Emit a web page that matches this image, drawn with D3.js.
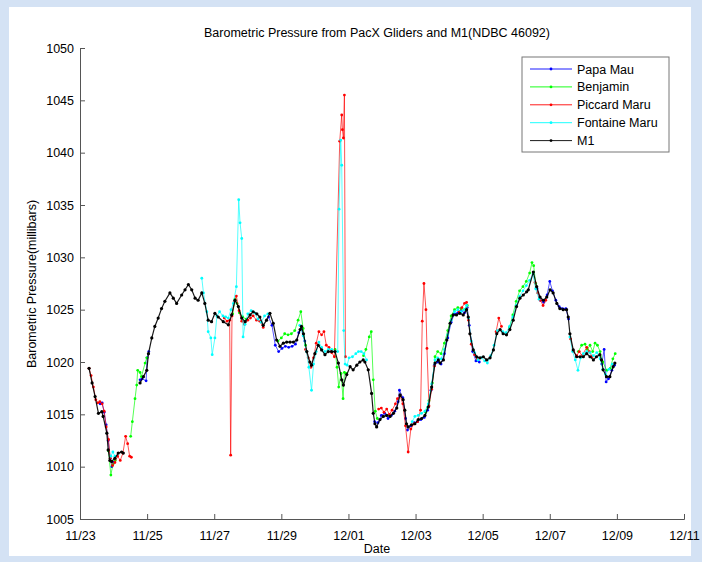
<!DOCTYPE html>
<html>
<head>
<meta charset="utf-8">
<script src="https://cdn.jsdelivr.net/npm/d3@7"></script>
<style>
  html, body { margin: 0; padding: 0; background: #d4e2f4; }
  svg { display: block; }
  text { font-family: "Liberation Sans", Arial, sans-serif; fill: #000; }
</style>
</head>
<body>
<script>
// Barometric pressure readings, [days after 11/23 00:00, millibars]; null marks a data gap.
const papaMau = [
  [0.60,1016.0],[0.66,1016.1],[0.72,1015.2],[0.78,1014.0],[0.84,1012.5],[0.90,1010.8],[0.95,1010.0],[1.00,1010.4],
  null,
  [1.79,1018.3],[1.85,1018.4],[1.97,1018.2],[2.00,1020.4],[2.05,1021.0],
  null,
  [5.62,1024.3],[5.72,1023.5],[5.82,1021.6],[5.92,1021.0],[6.02,1021.3],[6.12,1021.5],[6.22,1021.4],[6.32,1021.5],
  [6.42,1021.7],[6.52,1022.8],[6.60,1023.2],[6.70,1022.0],
  null,
  [8.78,1014.3],[8.88,1014.2],[8.98,1014.9],[9.08,1015.1],[9.18,1014.6],[9.28,1014.9],[9.38,1015.3],[9.48,1016.2],
  [9.52,1017.3],[9.62,1016.6],[9.70,1014.6],[9.76,1013.5],[9.86,1013.9],[9.96,1014.2],[10.06,1014.3],[10.16,1014.5],
  [10.26,1014.7],[10.36,1015.4],[10.46,1017.3],[10.56,1019.7],[10.66,1020.0],[10.76,1019.8],[10.86,1020.8],
  [10.96,1022.3],[11.06,1023.8],[11.16,1024.6],[11.26,1024.7],[11.36,1024.9],[11.46,1024.7],[11.54,1025.2],
  [11.60,1023.5],[11.70,1021.0],[11.80,1020.1],[11.90,1020.0],
  null,
  [13.62,1027.0],[13.72,1025.9],[13.82,1025.7],[13.92,1026.4],[14.00,1027.7],[14.08,1026.8],[14.18,1025.9],
  [14.28,1025.3],[14.38,1025.1],[14.48,1025.1],[14.56,1024.1],
  null,
  [15.55,1019.8],[15.62,1021.2],[15.68,1018.1],[15.75,1018.4],[15.85,1019.2],[15.93,1019.7]
];

const benjamin = [
  [0.85,1011.5],[0.92,1009.2],[0.98,1010.2],[1.05,1010.6],
  null,
  [1.51,1012.9],[1.56,1014.3],[1.64,1016.5],[1.69,1017.8],[1.72,1019.2],[1.79,1019.0],[1.83,1018.6],[1.94,1019.9],[1.99,1020.4],
  null,
  [4.55,1024.6],[4.62,1026.0],[4.68,1025.6],[4.75,1024.7],[4.85,1024.3],[4.95,1024.1],
  null,
  [5.90,1022.0],[6.00,1022.3],[6.10,1022.7],[6.20,1022.6],[6.30,1022.7],[6.40,1023.0],[6.50,1024.0],[6.58,1024.8],
  [6.65,1023.2],[6.72,1021.6],
  null,
  [7.60,1021.2],[7.66,1019.5],[7.71,1017.6],[7.78,1018.9],[7.84,1016.5],[7.88,1019.0],[7.94,1018.9],
  null,
  [8.45,1020.6],[8.52,1021.2],[8.62,1022.4],[8.68,1022.9],[8.74,1018.3],[8.80,1015.3],[8.86,1014.6],
  null,
  [10.30,1015.2],[10.40,1016.3],[10.50,1018.0],[10.58,1020.5],[10.66,1021.0],[10.76,1020.8],[10.86,1021.8],
  [10.96,1023.0],[11.06,1024.4],[11.16,1025.0],[11.26,1025.2],[11.36,1025.1],[11.46,1025.0],[11.54,1025.4],
  null,
  [12.80,1023.3],[12.90,1024.5],[13.00,1025.8],[13.10,1026.8],[13.20,1027.2],[13.30,1027.7],[13.40,1028.5],
  [13.47,1029.5],[13.52,1029.2],[13.58,1027.5],
  null,
  [14.85,1021.0],[14.95,1021.6],[15.05,1021.7],[15.12,1021.2],[15.20,1021.6],[15.28,1021.0],[15.35,1021.8],
  [15.42,1021.6],[15.50,1021.0],[15.58,1020.0],[15.70,1019.2],[15.80,1019.4],[15.88,1020.3],[15.95,1020.8]
];

const piccardMaru = [
  [0.27,1019.4],[0.33,1018.7],[0.40,1017.6],[0.47,1016.4],[0.53,1016.1],[0.59,1016.2],[0.66,1016.0],[0.72,1015.3],
  [0.78,1013.8],[0.85,1012.6],[0.90,1010.8],[0.97,1010.1],[1.04,1010.4],[1.12,1011.0],[1.20,1010.6],[1.28,1011.3],
  [1.36,1012.9],[1.42,1012.2],[1.48,1011.0],[1.53,1010.9],
  null,
  [4.30,1024.2],[4.38,1023.9],[4.46,1024.0],[4.49,1011.1],[4.53,1024.4],[4.60,1025.8],[4.66,1026.3],[4.74,1024.9],
  [4.82,1023.9],[4.90,1023.6],[5.00,1024.0],[5.08,1024.2],[5.16,1024.4],[5.26,1024.0],[5.36,1023.9],[5.46,1023.3],
  null,
  [6.72,1021.2],[6.80,1020.4],[6.88,1019.5],[6.96,1020.4],[7.04,1021.8],[7.12,1022.9],[7.20,1022.6],[7.27,1022.9],
  [7.34,1021.6],[7.42,1021.4],[7.50,1020.9],[7.58,1020.5],[7.74,1041.1],[7.80,1043.6],[7.82,1042.2],[7.85,1041.4],
  [7.88,1045.5],[7.91,1020.5],
  null,
  [8.90,1015.5],[8.98,1015.6],[9.06,1015.2],[9.14,1015.5],[9.22,1015.0],[9.30,1015.4],[9.40,1016.0],[9.46,1016.5],
  [9.54,1016.8],[9.62,1016.0],[9.70,1013.9],[9.78,1011.4],[9.86,1013.6],[9.96,1014.1],[10.06,1014.3],[10.15,1015.4],
  [10.20,1023.9],[10.25,1027.5],[10.31,1025.0],[10.34,1021.3],[10.40,1015.8],[10.48,1017.4],[10.56,1019.6],
  null,
  [11.30,1024.8],[11.38,1025.2],[11.46,1025.6],[11.52,1025.7],[11.58,1024.0],[11.66,1021.7],[11.76,1020.7],[11.84,1020.3],
  null,
  [12.40,1022.9],[12.48,1024.2],[12.56,1023.4],
  null,
  [13.56,1027.6],[13.64,1026.6],[13.72,1025.9],[13.80,1025.4],[13.88,1025.9],
  null,
  [14.62,1022.2],[14.70,1021.0],[14.80,1020.6],[14.88,1021.0],[14.96,1020.6],[15.10,1021.4],[15.18,1021.0],[15.26,1020.5]
];

const fontaineMaru = [
  [0.92,1011.0],[0.98,1011.4],[1.04,1011.0],
  null,
  [3.63,1028.0],[3.68,1026.6],[3.78,1024.8],[3.82,1022.9],[3.90,1022.3],[3.94,1020.7],[4.02,1022.3],[4.08,1024.4],
  [4.16,1024.8],[4.26,1024.4],[4.34,1024.3],[4.42,1024.2],[4.50,1025.0],[4.57,1025.6],[4.66,1027.2],[4.73,1035.5],
  [4.77,1033.3],[4.82,1031.8],[4.86,1022.4],[4.92,1023.6],[5.00,1024.6],[5.10,1024.9],[5.20,1024.7],[5.30,1024.1],
  [5.40,1023.8],[5.50,1024.4],[5.60,1024.6],
  null,
  [6.55,1023.5],[6.65,1022.5],[6.75,1021.0],[6.82,1019.5],[6.90,1017.3],[6.96,1019.8],[7.04,1021.0],[7.12,1021.9],
  [7.20,1021.4],[7.30,1021.0],[7.40,1021.2],[7.50,1021.2],[7.68,1021.0],[7.72,1034.6],[7.77,1041.2],[7.80,1038.8],
  [7.86,1023.0],[7.90,1019.8],[7.96,1019.7],[8.02,1020.4],[8.12,1020.5],[8.22,1020.8],[8.30,1021.0],[8.38,1021.0],
  [8.46,1020.8],[8.54,1020.2],
  null,
  [9.90,1014.3],[9.98,1014.8],[10.08,1014.9],[10.18,1015.1],[10.28,1015.3],[10.38,1016.0],[10.48,1017.9],[10.58,1020.2],
  [10.66,1020.4],[10.76,1020.3],[10.86,1021.2],[10.96,1022.6],[11.06,1024.0],[11.16,1024.8],[11.26,1025.0],[11.36,1024.8],
  [11.46,1025.0],[11.52,1025.4],[11.58,1024.2],[11.66,1022.0],[11.76,1020.9],[11.86,1020.2],[11.96,1020.4],[12.06,1020.1],
  [12.14,1019.9],[12.24,1020.6],[12.34,1021.6],[12.44,1023.0],
  null,
  [12.60,1022.9],[12.70,1022.8],[12.80,1023.4],[12.90,1024.3],[13.00,1025.4],[13.10,1026.3],[13.20,1026.8],[13.30,1027.3],
  [13.40,1027.8],[13.50,1028.4],[13.58,1027.0],[13.68,1026.0],
  null,
  [14.60,1022.4],[14.68,1021.0],[14.76,1020.2],[14.84,1019.2],[14.92,1020.4],[15.00,1020.8],[15.10,1021.0],[15.20,1020.9],
  [15.30,1020.6],[15.40,1020.9],[15.50,1020.3],[15.58,1019.3],[15.66,1018.8],[15.76,1019.3],[15.86,1019.8]
];

const m1 = [
  [0.27,1019.4],[0.36,1018.0],[0.45,1016.7],[0.55,1015.1],[0.65,1015.25],[0.69,1014.8],[0.80,1013.2],[0.84,1011.6],
  [0.89,1010.6],[0.94,1010.5],[1.04,1010.8],[1.14,1011.3],[1.24,1011.4],[1.29,1011.3],
  null,
  [1.79,1018.0],[1.89,1018.6],[1.99,1019.2],[2.04,1020.8],[2.14,1022.3],[2.23,1023.4],[2.33,1024.2],[2.43,1025.1],
  [2.53,1025.8],[2.68,1026.6],[2.78,1026.1],[2.88,1025.6],[3.03,1026.4],[3.13,1026.9],[3.23,1027.4],[3.33,1026.9],
  [3.43,1026.1],[3.52,1025.9],[3.63,1026.6],[3.72,1025.6],[3.82,1024.0],[3.92,1023.85],[4.02,1024.65],[4.12,1024.3],
  [4.27,1023.85],[4.42,1023.55],[4.52,1024.5],[4.62,1025.9],[4.72,1025.3],[4.82,1024.2],[4.92,1023.85],[5.07,1024.5],
  [5.16,1024.8],[5.27,1024.6],[5.36,1024.3],[5.46,1023.5],[5.56,1024.0],[5.66,1024.65],[5.76,1023.7],[5.86,1022.1],
  [5.96,1021.5],[6.06,1021.8],[6.16,1021.9],[6.26,1021.9],[6.36,1021.9],[6.46,1022.1],[6.56,1023.1],[6.60,1023.4],
  [6.66,1022.7],[6.76,1021.0],[6.85,1020.0],[6.90,1019.7],[7.00,1020.8],[7.10,1021.6],[7.20,1021.15],[7.30,1020.7],
  [7.40,1021.0],[7.50,1021.0],[7.60,1021.0],[7.70,1019.9],[7.80,1018.3],[7.85,1017.8],[7.95,1018.8],[8.05,1019.55],
  [8.14,1019.25],[8.25,1019.7],[8.34,1020.0],[8.44,1020.2],[8.49,1020.0],[8.59,1019.25],[8.69,1017.0],[8.74,1015.1],
  [8.79,1014.1],[8.84,1013.8],[8.94,1014.5],[9.04,1014.8],[9.14,1014.9],[9.24,1014.8],[9.34,1015.1],[9.44,1015.6],
  [9.54,1016.85],[9.63,1016.4],[9.68,1015.4],[9.73,1014.1],[9.78,1013.8],[9.88,1014.0],[9.98,1014.1],[10.08,1014.5],
  [10.18,1014.6],[10.28,1014.9],[10.38,1015.7],[10.48,1017.6],[10.58,1019.9],[10.68,1020.2],[10.73,1019.9],[10.83,1020.2],
  [10.93,1022.1],[11.03,1023.7],[11.12,1024.5],[11.22,1024.5],[11.32,1024.65],[11.42,1024.5],[11.52,1025.0],[11.57,1024.3],
  [11.62,1022.7],[11.72,1021.15],[11.82,1020.5],[11.92,1020.4],[12.02,1020.5],[12.12,1020.2],[12.22,1020.4],[12.32,1021.15],
  [12.42,1022.7],[12.52,1023.1],[12.61,1022.7],[12.71,1022.6],[12.81,1023.1],[12.91,1024.0],[13.01,1025.3],[13.11,1026.1],
  [13.21,1026.4],[13.31,1026.7],[13.36,1026.9],[13.51,1028.6],[13.61,1027.2],[13.71,1026.2],[13.81,1025.9],[13.91,1026.2],
  [14.01,1026.9],[14.10,1026.6],[14.21,1025.6],[14.30,1025.1],[14.40,1025.0],[14.50,1025.0],[14.55,1024.3],[14.60,1022.7],
  [14.70,1021.15],[14.80,1020.5],[14.90,1020.5],[15.00,1020.5],[15.10,1020.8],[15.20,1020.5],[15.30,1020.2],[15.39,1020.5],
  [15.49,1020.7],[15.54,1020.2],[15.59,1019.25],[15.69,1018.6],[15.79,1018.6],[15.89,1019.55],[15.94,1019.9]
];

const seriesNames  = ["Papa Mau", "Benjamin", "Piccard Maru", "Fontaine Maru", "M1"];
const seriesData   = [papaMau, benjamin, piccardMaru, fontaineMaru, m1];
const seriesColors = ["#0000ff", "#00ff00", "#ff0000", "#00ffff", "#000000"];

const yTicks = [1005, 1010, 1015, 1020, 1025, 1030, 1035, 1040, 1045, 1050];
const xTickLabels = ["11/23", "11/25", "11/27", "11/29", "12/01", "12/03", "12/05", "12/07", "12/09", "12/11"];

const titleText = "Barometric Pressure from PacX Gliders and M1(NDBC 46092)";
const xAxisLabel = "Date";
const yAxisLabel = "Barometric Pressure(millibars)";

// ---- layout ----
const W = 702, H = 562;
const plot = { left: 80, right: 684, top: 48, bottom: 519 };

const startDate = new Date(2011, 10, 23);
const DAY = 864e5;
const toDate = d => new Date(startDate.getTime() + d * DAY);
const labelToDate = s => {
  const [m, d] = s.split("/").map(Number);
  return new Date(2011, m - 1, d);
};

const x = d3.scaleTime()
  .domain([labelToDate(xTickLabels[0]), labelToDate(xTickLabels[xTickLabels.length - 1])])
  .range([plot.left, plot.right]);
const y = d3.scaleLinear()
  .domain([yTicks[0], yTicks[yTicks.length - 1]])
  .range([plot.bottom, plot.top]);

const svg = d3.select("body").append("svg").attr("width", W).attr("height", H);

// figure panel
svg.append("rect").attr("x", 9).attr("y", 7).attr("width", 682).attr("height", 549).attr("fill", "#ffffff");

// series, drawn in legend order so M1 ends on top
const line = d3.line()
  .defined(p => p !== null)
  .x(p => x(toDate(p[0])))
  .y(p => y(p[1]));

seriesData.forEach((data, i) => {
  const isM1 = i === seriesData.length - 1;
  const g = svg.append("g").attr("class", "series");
  g.append("path")
    .attr("d", line(data))
    .attr("fill", "none")
    .attr("stroke", seriesColors[i])
    .attr("stroke-width", isM1 ? 1.2 : 0.9)
    .attr("stroke-opacity", isM1 ? 0.9 : 0.75);
  g.selectAll("circle")
    .data(data.filter(p => p !== null))
    .join("circle")
    .attr("cx", p => x(toDate(p[0])))
    .attr("cy", p => y(p[1]))
    .attr("r", isM1 ? 1.6 : 1.4)
    .attr("fill", seriesColors[i]);
});

// axes (ticks point into the plot)
const yAxis = d3.axisLeft(y).tickValues(yTicks).tickSize(-5).tickPadding(6).tickFormat(d3.format("d"));
const xAxis = d3.axisBottom(x).tickValues(xTickLabels.map(labelToDate)).tickSize(-5).tickPadding(12)
  .tickFormat((d, i) => xTickLabels[i]);

const gy = svg.append("g").attr("transform", `translate(${plot.left},0)`).call(yAxis);
const gx = svg.append("g").attr("transform", `translate(0,${plot.bottom})`).call(xAxis);
[gx, gy].forEach(g => {
  g.select(".domain").attr("stroke", "#555").attr("stroke-width", 1);
  g.selectAll(".tick line").attr("stroke", "#555");
  g.selectAll(".tick text").attr("font-size", 12.5).attr("font-family", "Liberation Sans, Arial, sans-serif").attr("fill", "#000");
});

// titles
svg.append("text").attr("x", 377).attr("y", 37).attr("text-anchor", "middle")
  .attr("font-size", 12.5).text(titleText);
svg.append("text").attr("x", 377).attr("y", 553).attr("text-anchor", "middle")
  .attr("font-size", 12.5).text(xAxisLabel);
svg.append("text").attr("transform", "translate(36,284) rotate(-90)").attr("text-anchor", "middle")
  .attr("font-size", 12.5).text(yAxisLabel);

// legend
const lg = svg.append("g").attr("transform", "translate(522,57)");
lg.append("rect").attr("width", 147).attr("height", 95).attr("fill", "#fff").attr("stroke", "#777").attr("stroke-width", 1);
seriesNames.forEach((name, i) => {
  const cy = 12 + i * 17.9;
  lg.append("line").attr("x1", 8).attr("x2", 50).attr("y1", cy).attr("y2", cy)
    .attr("stroke", seriesColors[i]).attr("stroke-width", 0.9);
  lg.append("circle").attr("cx", 29).attr("cy", cy).attr("r", 1.4).attr("fill", seriesColors[i]);
  lg.append("text").attr("x", 55).attr("y", cy + 4.5).attr("font-size", 12.5).text(name);
});
</script>
</body>
</html>
